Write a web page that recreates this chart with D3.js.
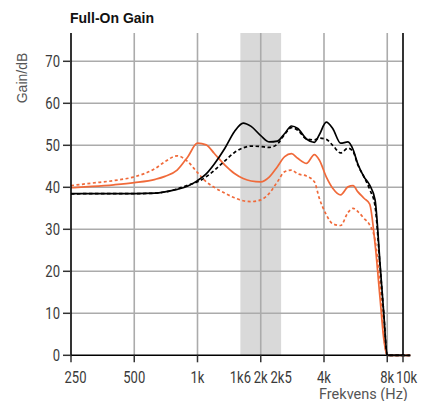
<!DOCTYPE html>
<html>
<head>
<meta charset="utf-8">
<script src="https://cdn.jsdelivr.net/npm/d3@7"></script>
<style>
  html, body { margin: 0; padding: 0; background: #fff; }
  svg { display: block; }
</style>
</head>
<body>
<div id="chart"></div>
<script>
// ---- Data ----
const freqs = [250, 315, 400, 500, 630, 700, 800, 900, 1000, 1100, 1200, 1350, 1500, 1650, 1800, 2000,
  2200, 2400, 2600, 2800, 3000, 3300, 3600, 3800, 4100, 4400, 4800, 5200, 5500, 5800, 6200, 6600,
  7000, 7400, 7700, 8000, 10300];
const blackSolid = [38.5, 38.5, 38.5, 38.5, 38.6, 38.9, 39.5, 40.3, 41.6, 43.2, 45.5, 49.3, 53.3, 55.3, 54.5, 52.3,
  50.8, 51.0, 52.8, 54.6, 54.0, 51.5, 50.7, 52.5, 55.5, 54.0, 50.5, 50.8, 49.0, 45.5, 42.5, 40.5,
  37.0, 21.5, 10.0, 0, 0];
const blackDashed = [38.4, 38.5, 38.5, 38.5, 38.6, 38.9, 39.6, 40.5, 41.3, 42.5, 44.0, 46.3, 48.3, 49.4, 49.8, 49.7,
  49.5, 50.3, 52.6, 54.2, 53.6, 51.5, 51.3, 51.7, 51.4, 50.0, 48.2, 49.3, 48.5, 45.3, 42.5, 39.5,
  35.5, 21.0, 10.0, 0, 0];
const orangeSolid = [39.9, 40.2, 40.6, 41.1, 41.9, 42.6, 44.1, 47.3, 50.5, 50.1, 48.1, 45.3, 43.3, 42.1, 41.5, 41.3,
  42.5, 44.9, 47.3, 48.0, 46.9, 45.7, 47.8, 46.5, 42.5, 39.8, 38.2, 40.1, 40.4, 38.9, 37.4, 36.0,
  26.5, 13.3, 3.9, 0, 0];
const orangeDashed = [40.4, 41.0, 41.6, 42.5, 44.5, 46.1, 47.5, 46.1, 43.5, 41.3, 40.0, 38.6, 37.5, 36.8, 36.6, 37.0,
  38.6, 41.3, 43.7, 44.1, 43.2, 42.7, 41.3, 37.4, 33.5, 31.3, 30.9, 34.0, 35.0, 34.2, 32.6, 31.0,
  27.4, 16.7, 5.0, 0, 0];

const yTicks = [0, 10, 20, 30, 40, 50, 60, 70];
const xGrid = [500, 1000, 2000, 4000, 8000];
const xTickMarks = [250, 500, 1000, 2000, 4000, 8000];
const xTickValues = [250, 500, 1000, 1600, 2000, 2500, 4000, 8000];
const xTickLabels = ["250", "500", "1k", "1k6", "2k", "2k5", "4k", "8k"];
const edgeLabel = "10k";
const band = [1600, 2500];
const title = "Full-On Gain";
const yTitle = "Gain/dB";
const xTitle = "Frekvens (Hz)";

// ---- Layout ----
const W = 426, H = 401;
const mLeft = 71, mRight = 403, mTop = 33, mBottom = 355.3;
const octave = 63.25;

const x = d3.scaleLog().base(2).domain([250, 8000]).range([mLeft, mLeft + octave * 5]);
const y = d3.scaleLinear().domain([0, 70]).range([mBottom, mBottom - 70 * 4.2]);

const svg = d3.select("#chart").append("svg").attr("width", W).attr("height", H);

const orange = "#f06a3a";
const gridCol = "#ababab";
const textCol = "#3a3a3a";
const tickFont = "Roboto, 'Liberation Sans', sans-serif";
const tickSize = 16.5;
const squeeze = 0.79;

// band
svg.append("rect")
  .attr("x", x(band[0])).attr("y", mTop)
  .attr("width", x(band[1]) - x(band[0])).attr("height", mBottom - mTop)
  .attr("fill", "#d9d9d9");

// horizontal grid
svg.append("g").selectAll("line").data(yTicks.filter(d => d > 0)).join("line")
  .attr("x1", mLeft).attr("x2", mRight)
  .attr("y1", d => y(d)).attr("y2", d => y(d))
  .attr("stroke", gridCol).attr("stroke-width", 1.6);

// vertical grid
svg.append("g").selectAll("line").data(xGrid).join("line")
  .attr("x1", d => x(d)).attr("x2", d => x(d))
  .attr("y1", mTop).attr("y2", mBottom)
  .attr("stroke", gridCol).attr("stroke-width", 1.6);

// lines
const line = d3.line()
  .x((d, i) => x(freqs[i]))
  .y(d => y(d))
  .curve(d3.curveMonotoneX);

const series = [
  { v: orangeDashed, c: orange, dash: "3,2.5" },
  { v: orangeSolid, c: orange, dash: null },
  { v: blackDashed, c: "#000", dash: "3.5,2.5" },
  { v: blackSolid, c: "#000", dash: null }
];
series.forEach(s => {
  svg.append("path").datum(s.v)
    .attr("d", line)
    .attr("fill", "none")
    .attr("stroke", s.c)
    .attr("stroke-width", 1.7)
    .attr("stroke-dasharray", s.dash);
});

// axes lines
svg.append("line").attr("x1", mLeft).attr("x2", mLeft).attr("y1", mTop).attr("y2", mBottom + 1)
  .attr("stroke", "#000").attr("stroke-width", 1.6);
svg.append("line").attr("x1", mRight).attr("x2", mRight).attr("y1", mTop).attr("y2", mBottom + 1)
  .attr("stroke", "#000").attr("stroke-width", 1.6);
svg.append("line").attr("x1", mLeft).attr("x2", mRight).attr("y1", mBottom).attr("y2", mBottom)
  .attr("stroke", "#000").attr("stroke-width", 1.6);

// y ticks + labels
const yg = svg.append("g");
yg.selectAll("line").data(yTicks).join("line")
  .attr("x1", mLeft - 8).attr("x2", mLeft)
  .attr("y1", d => y(d)).attr("y2", d => y(d))
  .attr("stroke", "#333").attr("stroke-width", 1.5);
yg.selectAll("g").data(yTicks).join("g")
  .attr("transform", d => `translate(${mLeft - 11},${y(d)}) scale(${squeeze},1)`)
  .append("text")
  .attr("dy", "0.36em")
  .attr("text-anchor", "end")
  .attr("font-family", tickFont)
  .attr("font-size", tickSize)
  .attr("fill", textCol)
  .text(d => d);

// x ticks
const xg = svg.append("g");
xg.selectAll("line").data(xTickMarks).join("line")
  .attr("x1", d => x(d)).attr("x2", d => x(d))
  .attr("y1", mBottom).attr("y2", mBottom + 7)
  .attr("stroke", "#333").attr("stroke-width", 1.5);
xg.append("line").attr("x1", mRight).attr("x2", mRight).attr("y1", mBottom).attr("y2", mBottom + 7)
  .attr("stroke", "#333").attr("stroke-width", 1.5);
xg.selectAll("g").data(xTickValues).join("g")
  .attr("transform", (d, i) => `translate(${x(d) + (i === 0 ? 4.5 : 0)},383) scale(${squeeze},1)`)
  .append("text")
  .attr("text-anchor", "middle")
  .attr("font-family", tickFont)
  .attr("font-size", tickSize)
  .attr("fill", textCol)
  .text((d, i) => xTickLabels[i]);
xg.append("g")
  .attr("transform", `translate(${mRight + 3.5},383) scale(${squeeze},1)`)
  .append("text")
  .attr("text-anchor", "middle")
  .attr("font-family", tickFont)
  .attr("font-size", tickSize)
  .attr("fill", textCol)
  .text(edgeLabel);

// titles
svg.append("text").attr("x", 70).attr("y", 23)
  .attr("font-family", "'Liberation Sans', Arial, sans-serif")
  .attr("font-weight", "bold").attr("font-size", 14)
  .attr("fill", "#111")
  .text(title);

svg.append("text")
  .attr("transform", "translate(26.5,78) rotate(-90)")
  .attr("text-anchor", "middle")
  .attr("font-family", "'Liberation Sans', Arial, sans-serif")
  .attr("font-size", 14)
  .attr("fill", "#555")
  .text(yTitle);

svg.append("text").attr("x", 319).attr("y", 398.5)
  .attr("font-family", "Roboto, 'Liberation Sans', sans-serif")
  .attr("font-size", 14.5)
  .attr("fill", "#555")
  .text(xTitle);
</script>
</body>
</html>
